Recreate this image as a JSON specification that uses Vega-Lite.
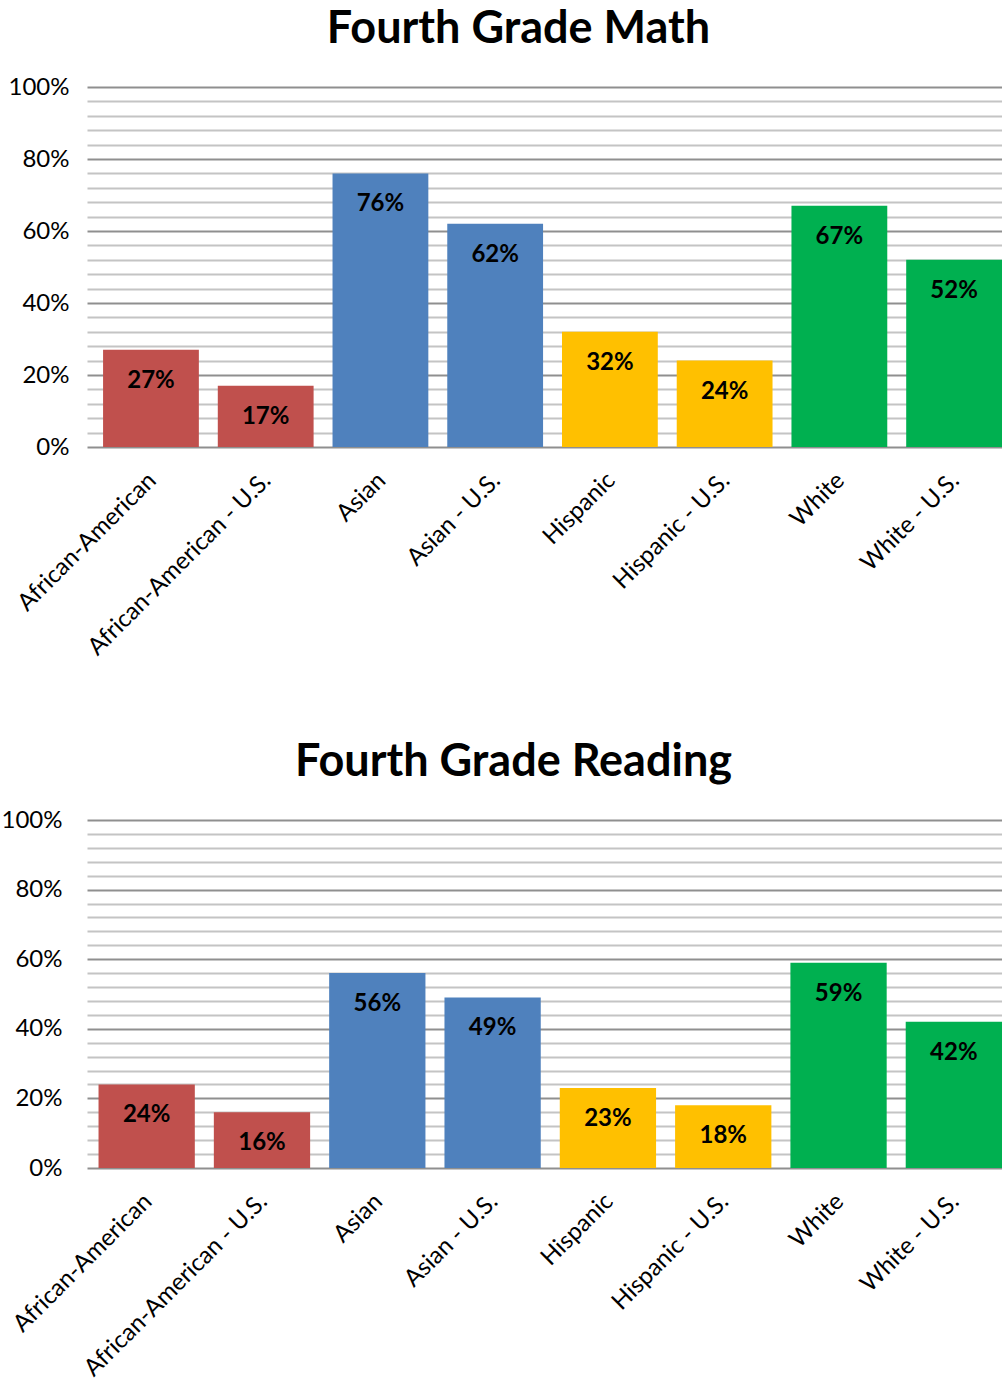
{
  "$schema": "https://vega.github.io/schema/vega-lite/v6.json",
  "padding": {"left": 1, "top": 7, "right": 0, "bottom": 0},
  "background": "white",
  "spacing": 80,
  "config": {
    "view": {"stroke": null},
    "font": "Lato",
    "title": {"font": "Lato", "fontWeight": "bold", "fontSize": 45, "color": "black", "anchor": "middle", "offset": 23},
    "axisX": {"title": null, "labelAngle": -45, "labelFontSize": 24, "labelFont": "Lato", "labelColor": "black", "ticks": false, "domain": false, "labelPadding": 21, "labelOffset": -7, "labelLimit": 400, "grid": false},
    "axisY": {"title": null, "labelFontSize": 24, "labelFont": "Lato", "labelColor": "black", "ticks": false, "domain": false, "grid": true, "gridWidth": 2}
  },
  "vconcat": [
    {
      "title": {"text": "Fourth Grade Math", "dx": -26},
      "width": 915,
      "height": 360,
      "data": {"values": [
        {"category": "African-American", "group": "African-American", "value": 27},
        {"category": "African-American - U.S.", "group": "African-American", "value": 17},
        {"category": "Asian", "group": "Asian", "value": 76},
        {"category": "Asian - U.S.", "group": "Asian", "value": 62},
        {"category": "Hispanic", "group": "Hispanic", "value": 32},
        {"category": "Hispanic - U.S.", "group": "Hispanic", "value": 24},
        {"category": "White", "group": "White", "value": 67},
        {"category": "White - U.S.", "group": "White", "value": 52}
      ]},
      "transform": [{"calculate": "datum.value + '%'", "as": "label"}],
      "encoding": {
        "x": {"field": "category", "type": "nominal", "sort": null, "scale": {"paddingInner": 0.165, "paddingOuter": 0.07, "align": 1}},
        "y": {"field": "value", "type": "quantitative", "scale": {"domain": [0, 100], "nice": false},
          "axis": {"labelPadding": 18,
            "values": [0, 4, 8, 12, 16, 20, 24, 28, 32, 36, 40, 44, 48, 52, 56, 60, 64, 68, 72, 76, 80, 84, 88, 92, 96, 100],
            "labelExpr": "datum.value % 20 === 0 ? datum.value + '%' : ''",
            "gridColor": {"condition": {"test": "datum.value % 20 === 0", "value": "#8f8f8f"}, "value": "#c4c4c4"}}}
      },
      "layer": [
        {"mark": {"type": "bar"}, "encoding": {"color": {"field": "group", "type": "nominal", "legend": null, "scale": {"domain": ["African-American", "Asian", "Hispanic", "White"], "range": ["#C0504D", "#4F81BD", "#FFC000", "#00B050"]}}}},
        {"mark": {"type": "text", "dy": 31, "fontWeight": "bold", "fontSize": 24, "font": "Lato", "color": "black", "baseline": "middle"}, "encoding": {"text": {"field": "label", "type": "nominal"}}}
      ]
    },
    {
      "title": {"text": "Fourth Grade Reading", "dx": -31},
      "width": 915,
      "height": 348,
      "data": {"values": [
        {"category": "African-American", "group": "African-American", "value": 24},
        {"category": "African-American - U.S.", "group": "African-American", "value": 16},
        {"category": "Asian", "group": "Asian", "value": 56},
        {"category": "Asian - U.S.", "group": "Asian", "value": 49},
        {"category": "Hispanic", "group": "Hispanic", "value": 23},
        {"category": "Hispanic - U.S.", "group": "Hispanic", "value": 18},
        {"category": "White", "group": "White", "value": 59},
        {"category": "White - U.S.", "group": "White", "value": 42}
      ]},
      "transform": [{"calculate": "datum.value + '%'", "as": "label"}],
      "encoding": {
        "x": {"field": "category", "type": "nominal", "sort": null, "scale": {"paddingInner": 0.165, "paddingOuter": 0.05, "align": 1}},
        "y": {"field": "value", "type": "quantitative", "scale": {"domain": [0, 100], "nice": false},
          "axis": {"labelPadding": 25,
            "values": [0, 4, 8, 12, 16, 20, 24, 28, 32, 36, 40, 44, 48, 52, 56, 60, 64, 68, 72, 76, 80, 84, 88, 92, 96, 100],
            "labelExpr": "datum.value % 20 === 0 ? datum.value + '%' : ''",
            "gridColor": {"condition": {"test": "datum.value % 20 === 0", "value": "#8f8f8f"}, "value": "#c4c4c4"}}}
      },
      "layer": [
        {"mark": {"type": "bar"}, "encoding": {"color": {"field": "group", "type": "nominal", "legend": null, "scale": {"domain": ["African-American", "Asian", "Hispanic", "White"], "range": ["#C0504D", "#4F81BD", "#FFC000", "#00B050"]}}}},
        {"mark": {"type": "text", "dy": 31, "fontWeight": "bold", "fontSize": 24, "font": "Lato", "color": "black", "baseline": "middle"}, "encoding": {"text": {"field": "label", "type": "nominal"}}}
      ]
    }
  ]
}
